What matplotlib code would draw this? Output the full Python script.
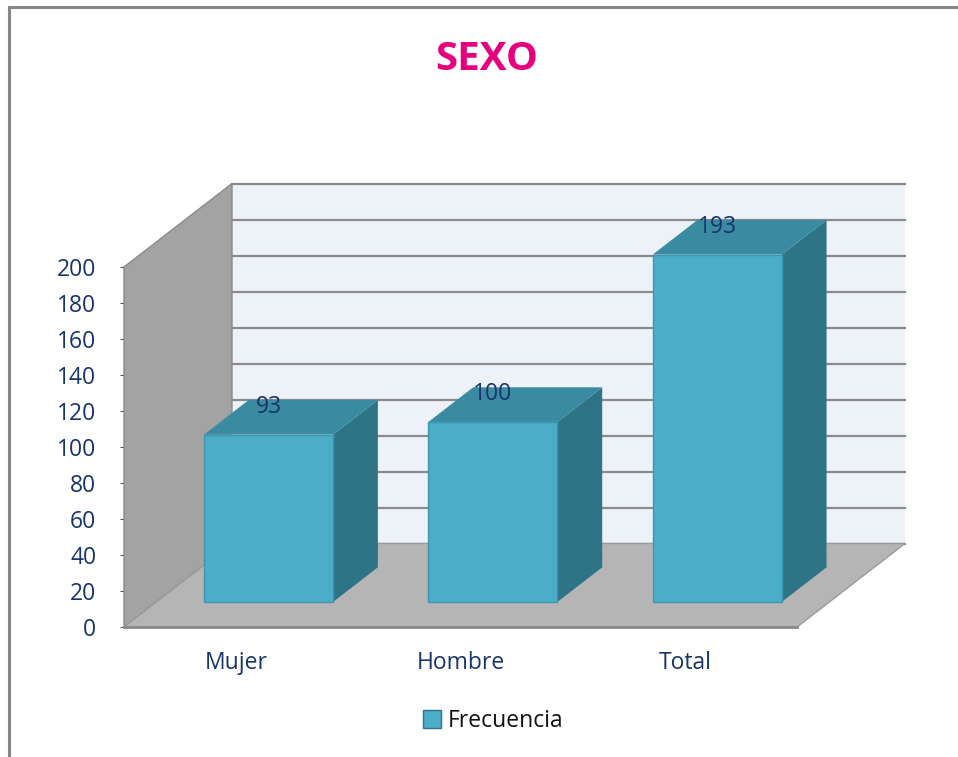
import matplotlib
matplotlib.use("Agg")
import matplotlib.pyplot as plt
from matplotlib.patches import Polygon, Patch
from matplotlib.lines import Line2D

# datos
categorias = ["Mujer", "Hombre", "Total"]
frecuencia = [93, 100, 193]
yticks = list(range(0, 201, 20))

plt.rcParams["font.family"] = ["Open Sans", "DejaVu Sans"]

W, H = 958, 757
fig = plt.figure(figsize=(W / 100, H / 100), dpi=100)

# eje del plano frontal (pixeles de la referencia)
x0, x1, yb, yt = 124, 797, 627, 267
ax = fig.add_axes([x0 / W, 1 - yb / H, (x1 - x0) / W, (yb - yt) / H])
ax.set_xlim(-0.5, 2.5)
ax.set_ylim(0, 200)

# profundidad oblicua en unidades de datos
DX = 108 / (x1 - x0) * 3
DY = 83.5 / ((yb - yt) / 200)


def P(x, y, z):
    return (x + z * DX, y + z * DY)


def poly(pts, fc, ec="none", lw=0, zo=1):
    ax.add_patch(Polygon(pts, closed=True, facecolor=fc, edgecolor=ec,
                         linewidth=lw, zorder=zo, clip_on=False))


txt = "#17346B"
xa, xb, ymax = -0.5, 2.5, 200
# pared trasera
poly([P(xa, 0, 1), P(xb, 0, 1), P(xb, ymax, 1), P(xa, ymax, 1)], "#EDF2F9")
for t in yticks:
    ax.plot([P(xa, t, 1)[0], P(xb, t, 1)[0]], [P(xa, t, 1)[1]] * 2,
            color="#8A8A8A", lw=1.6, zorder=2, clip_on=False)
# pared izquierda
poly([P(xa, 0, 0), P(xa, 0, 1), P(xa, ymax, 1), P(xa, ymax, 0)], "#A3A3A3",
     ec="#8A8A8A", lw=1, zo=3)
# piso
poly([P(xa, 0, 0), P(xb, 0, 0), P(xb, 0, 1), P(xa, 0, 1)], "#B5B5B5",
     ec="#9A9A9A", lw=1, zo=3)
ax.plot([P(xa, 0, 0)[0], P(xb, 0, 0)[0]], [0, 0], color="#8A8A8A", lw=2,
        zorder=4, clip_on=False)

# barras 3D
w = 0.575
z0, z1 = 0.30, 0.715
for i, v in enumerate(frecuencia):
    l, r = i - w / 2, i + w / 2
    poly([P(r, 0, z0), P(r, 0, z1), P(r, v, z1), P(r, v, z0)], "#2F7387", zo=5)
    poly([P(l, v, z0), P(r, v, z0), P(r, v, z1), P(l, v, z1)], "#3A8BA1", zo=5)
    poly([P(l, 0, z0), P(r, 0, z0), P(r, v, z0), P(l, v, z0)], "#4BADC8",
         ec="#3B97B0", lw=1, zo=6)
    tx, ty = P(i, v, z0)
    ax.text(tx, v + 0.63 * DY, str(v), ha="center", va="center",
            fontsize=16.5, color=txt, zorder=7)

ax.set_xticks(range(len(categorias)))
ax.set_xticklabels(categorias)
ax.set_yticks(yticks)
ax.tick_params(axis="x", length=0, pad=17, labelsize=16.5, labelcolor=txt)
ax.tick_params(axis="y", length=3, pad=17, labelsize=16.5, labelcolor=txt,
               color="#555555")
for s in ax.spines.values():
    s.set_visible(False)
ax.set_facecolor("none")

# titulo
fig.text(487 / W, 1 - 59 / H, "SEXO", ha="center", va="center",
         fontsize=29, fontweight="bold", color="#E6007E")

# leyenda
fig.legend(handles=[Patch(facecolor="#4BADC8", edgecolor="#2F7387",
                          label="Frecuencia")],
           loc="center", bbox_to_anchor=(493 / W, 1 - 721 / H), frameon=False,
           fontsize=16.5, handlelength=0.8, handleheight=0.8, handletextpad=0.3,
           labelcolor="#111111")

# borde del grafico
fig.add_artist(Line2D([9 / W, 9 / W], [0, 1 - 7 / H], color="#878787", lw=2.2))
fig.add_artist(Line2D([9 / W, 1], [1 - 7 / H, 1 - 7 / H], color="#878787", lw=2.2))

fig.savefig("out.png", dpi=100)
